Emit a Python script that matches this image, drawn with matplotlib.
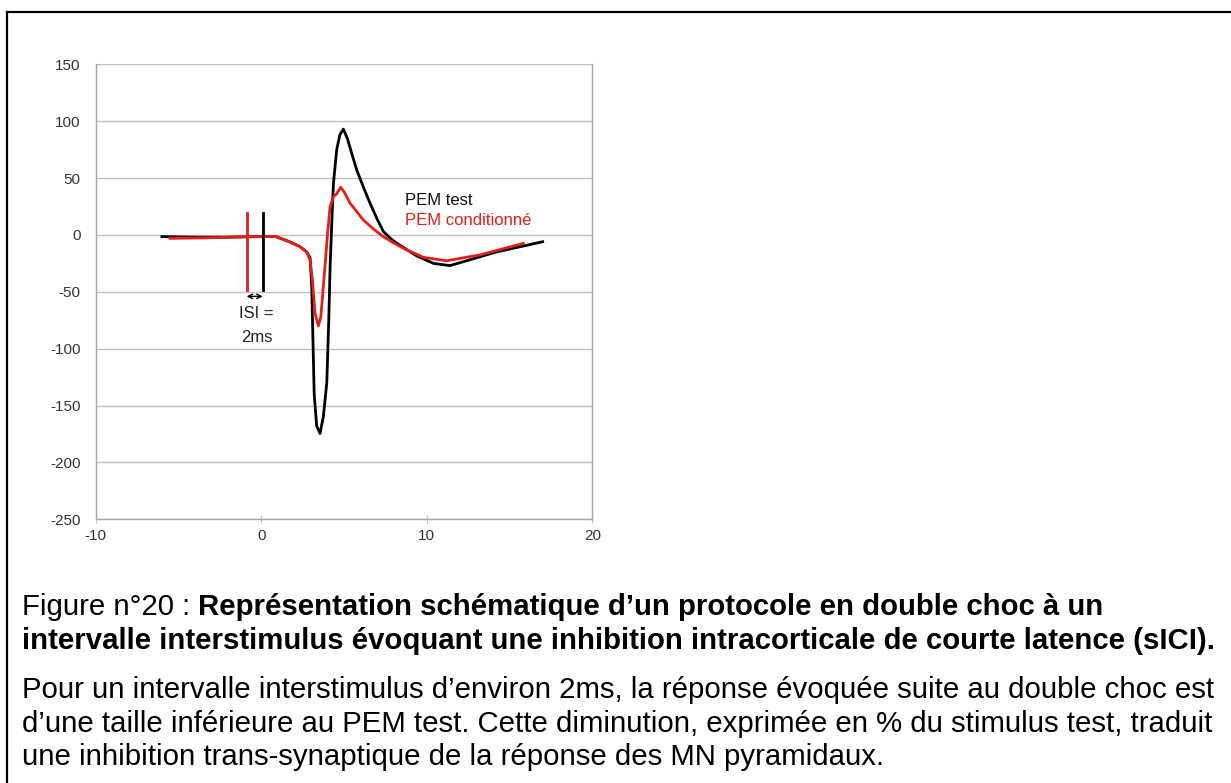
import matplotlib
matplotlib.use("Agg")
import matplotlib.pyplot as plt
from matplotlib.lines import Line2D

plt.rcParams['font.family'] = ['Liberation Sans', 'DejaVu Sans']
plt.rcParams['axes.unicode_minus'] = False

# PEM test (black)
test_x = [-6.0, -4, -2, 0, 0.9, 1.7, 2.3, 2.75, 2.95, 3.05, 3.12, 3.2, 3.35, 3.55, 3.75,
          3.96, 4.08, 4.16, 4.26, 4.36, 4.56, 4.75, 4.96, 5.2, 5.5, 5.77, 6.2, 6.57, 7.0,
          7.38, 7.8, 8.19, 8.8, 9.4, 10.4, 11.4, 14.2, 17.0]
test_y = [-1.5, -2, -2, -1.5, -1.5, -6, -10, -15, -20, -45, -90, -140, -168, -174.5, -160,
          -130, -75, -28, 10, 45, 75, 88, 93, 85, 70, 57, 41, 28, 14,
          3, -3, -7.3, -13, -18.5, -25, -27, -15, -6]

# PEM conditionné (red)
cond_x = [-5.5, -3, -1, 0, 0.9, 1.7, 2.3, 2.75, 2.95, 3.1, 3.25, 3.45, 3.6, 3.75, 3.85,
          4.0, 4.16, 4.36, 4.55, 4.8, 5.0, 5.37, 6.17, 6.8, 7.38, 8.0, 8.59, 9.8, 11.2,
          13.2, 15.84]
cond_y = [-3, -2.5, -1.5, -1.5, -1.5, -6, -10, -15, -22, -41, -69, -80, -72, -45.5, -28,
          0, 24.8, 33.6, 36, 41.9, 38, 27.8, 13.1, 5, -1.6, -7, -11.8, -19.7, -22.7,
          -17.6, -7.4]

# stimulus markers
stim_cond_x = -0.88
stim_test_x = 0.09
stim_y = [19, -48]

xticks = [-10, 0, 10, 20]
yticks = [150, 100, 50, 0, -50, -100, -150, -200, -250]

fig = plt.figure(figsize=(12.31, 7.83), dpi=100)
W, H = 1231, 783
ax = fig.add_axes([95.7 / W, 1 - 519.3 / H, (592.3 - 95.7) / W, (519.3 - 64.3) / H])

grid_c = '#bfbfbf'
for v in yticks:
    ax.axhline(v, color=grid_c, lw=1, zorder=0)

ax.plot(test_x, test_y, color='black', lw=2, solid_joinstyle='round', zorder=3)
ax.plot(cond_x, cond_y, color='#e0201b', lw=2, solid_joinstyle='round', zorder=4)
ax.plot([stim_cond_x, stim_cond_x], stim_y, color='#e0201b', lw=2, zorder=4)
ax.plot([stim_test_x, stim_test_x], stim_y, color='black', lw=2, zorder=4)
ax.annotate('', xy=(stim_cond_x, -54), xytext=(stim_test_x, -54),
            arrowprops=dict(arrowstyle='<->', color='black', lw=1, mutation_scale=8,
                            shrinkA=0, shrinkB=0))

ax.text(-0.31, -69, 'ISI =', ha='center', va='center', fontsize=12, color='#222222')
ax.text(-0.25, -90, '2ms', ha='center', va='center', fontsize=12, color='#222222')
ax.text(8.71, 30.7, 'PEM test', ha='left', va='center', fontsize=12, color='#111111')
ax.text(8.71, 13, 'PEM conditionné', ha='left', va='center', fontsize=12, color='#e0201b')

ax.set_xlim(-10, 20)
ax.set_ylim(-250, 150)
ax.set_xticks(xticks)
ax.set_yticks(yticks)
ax.tick_params(axis='y', length=0, pad=11, labelsize=11, labelcolor='#333333')
ax.tick_params(axis='x', length=6, direction='inout', color=grid_c, pad=4,
               labelsize=11, labelcolor='#333333')
for s in ['left', 'right', 'bottom']:
    ax.spines[s].set_color('#a6a6a6')
    ax.spines[s].set_linewidth(1)
ax.spines['top'].set_visible(False)

# frame of the figure box
fig.add_artist(Line2D([6.7 / W, 1.0], [1 - 11.7 / H, 1 - 11.7 / H], color='black', lw=1.6,
                      transform=fig.transFigure))
fig.add_artist(Line2D([6.7 / W, 6.7 / W], [1 - 11.7 / H, 0.0], color='black', lw=1.6,
                      transform=fig.transFigure))

# caption
fs = 21.2
x0 = 21.7 / W
t1 = fig.text(x0, 1 - 615 / H, 'Figure n°20 : ', fontsize=fs, va='baseline')
plt.annotate('Représentation schématique d’un protocole en double choc à un',
             xy=(1, 0), xycoords=t1, va='bottom', ha='left', fontsize=fs,
             fontweight='bold', annotation_clip=False)
fig.text(x0, 1 - 649 / H,
         'intervalle interstimulus évoquant une inhibition intracorticale de courte latence (sICI).',
         fontsize=fs, fontweight='bold', va='baseline')
fig.text(x0, 1 - 698 / H,
         'Pour un intervalle interstimulus d’environ 2ms, la réponse évoquée suite au double choc est',
         fontsize=fs, va='baseline')
fig.text(x0, 1 - 732.5 / H,
         'd’une taille inférieure au PEM test. Cette diminution, exprimée en % du stimulus test, traduit',
         fontsize=fs, va='baseline')
fig.text(x0, 1 - 765 / H,
         'une inhibition trans-synaptique de la réponse des MN pyramidaux.',
         fontsize=fs, va='baseline')

fig.savefig('out.png', dpi=100)
